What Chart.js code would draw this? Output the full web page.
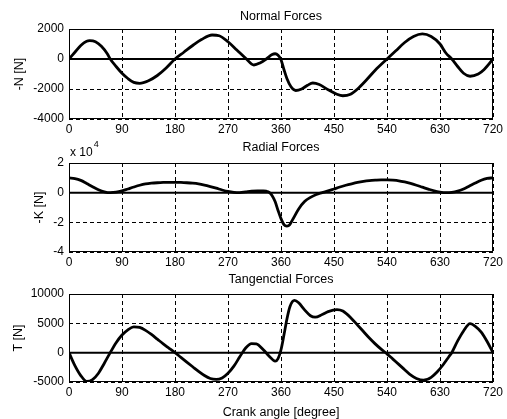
<!DOCTYPE html>
<html>
<head>
<meta charset="utf-8">
<title>Engine forces vs crank angle</title>
<script src="https://cdn.jsdelivr.net/npm/chart.js@4.4.1/dist/chart.umd.min.js"></script>
<style>
    html, body { margin: 0; padding: 0; background: #fff; }
    #wrap { position: relative; width: 507px; height: 419px; }
    #wrap canvas { position: absolute; left: 0; }
</style>
</head>
<body>
<div id="wrap">
    <canvas id="normal-chart" width="507" height="140" style="top:0px"></canvas>
    <canvas id="radial-chart" width="507" height="130" style="top:140px"></canvas>
    <canvas id="tangential-chart" width="507" height="149" style="top:270px"></canvas>
</div>
<script>
// crank angle axis [degree]
const angleTicks = [0, 90, 180, 270, 360, 450, 540, 630, 720];

// Normal forces, -N [N]
const normalAngles = [0, 10, 20, 30, 35, 45, 55, 65, 70, 80,
    90, 100, 110, 120, 135, 150, 165, 180, 195, 210,
    225, 243, 255, 270, 285, 300, 314, 325, 335, 345,
    350, 355, 360, 365, 370, 377, 385, 395, 405, 414,
    425, 440, 455, 465, 478, 490, 505, 520, 540, 555,
    570, 585, 600, 615, 630, 640, 650, 660, 670, 681,
    695, 705, 720];
const normalValues = [0, 450, 900, 1180, 1220, 1150, 850, 350, 0, -500,
    -950, -1300, -1560, -1620, -1450, -1100, -600, 0, 450, 900,
    1300, 1600, 1550, 1150, 600, 50, -400, -250, 0, 300,
    350, 250, -50, -700, -1300, -1850, -2100, -2000, -1750, -1600,
    -1700, -2050, -2350, -2450, -2350, -2000, -1400, -750, 0, 550,
    1100, 1500, 1670, 1500, 1000, 400, 0, -500, -950, -1150,
    -1000, -700, 0];

// Radial forces, -K [N] (in units of 10^4 N)
const radialAngles = [0, 10, 20, 30, 40, 50, 60, 70, 80, 90,
    100, 110, 120, 130, 140, 150, 160, 170, 180, 190,
    200, 210, 220, 230, 240, 250, 260, 270, 280, 290,
    300, 310, 320, 330, 335, 340, 345, 350, 355, 360,
    365, 370, 375, 380, 390, 400, 410, 420, 430, 440,
    450, 460, 470, 480, 490, 500, 510, 520, 530, 540,
    550, 560, 570, 580, 590, 600, 610, 620, 630, 640,
    650, 660, 670, 680, 690, 700, 710, 720];
const radialValues = [1.0, 0.95, 0.83, 0.62, 0.4, 0.2, 0.06, 0.0, 0.03, 0.12,
    0.25, 0.38, 0.5, 0.59, 0.64, 0.67, 0.69, 0.7, 0.7, 0.69,
    0.67, 0.64, 0.59, 0.51, 0.41, 0.3, 0.18, 0.08, 0.02, 0.0,
    0.05, 0.1, 0.12, 0.12, 0.1, 0.02, -0.2, -0.6, -1.2, -1.75,
    -2.15, -2.25, -2.15, -1.8, -1.1, -0.6, -0.32, -0.12, 0.0, 0.12,
    0.25, 0.38, 0.5, 0.6, 0.69, 0.76, 0.81, 0.84, 0.86, 0.86,
    0.84, 0.8, 0.72, 0.62, 0.5, 0.37, 0.24, 0.12, 0.04, 0.0,
    0.02, 0.1, 0.25, 0.45, 0.65, 0.84, 0.96, 1.0];

// Tangential forces, T [N]
const tangentialAngles = [0, 10, 20, 30, 40, 50, 60, 70, 80, 90,
    100, 110, 120, 130, 140, 150, 160, 170, 180, 190,
    200, 210, 220, 230, 240, 250, 260, 270, 280, 290,
    300, 310, 318, 330, 340, 350, 355, 360, 365, 370,
    375, 383, 390, 400, 410, 418, 430, 440, 455, 465,
    480, 490, 500, 510, 520, 530, 540, 550, 560, 570,
    580, 590, 602, 615, 625, 635, 645, 650, 660, 670,
    681, 690, 700, 710, 720];
const tangentialValues = [0, -2200, -3900, -4900, -4600, -3500, -1800, 0, 1700, 3000,
    3900, 4400, 4300, 3800, 3100, 2300, 1500, 750, 0, -800,
    -1600, -2400, -3200, -3900, -4400, -4550, -4300, -3500, -2300, -700,
    800, 1550, 1500, 500, -600, -1450, -1000, 500, 3000, 5700,
    7800, 8900, 8500, 7300, 6300, 6050, 6500, 7000, 7350, 7100,
    5800, 4700, 3600, 2500, 1500, 600, -200, -1100, -2000, -2900,
    -3800, -4400, -4700, -4200, -3300, -2100, -700, 0, 2000, 3700,
    4950, 4500, 3500, 1900, 0];

Chart.defaults.font.family = "'Liberation Sans', Arial, sans-serif";
Chart.defaults.font.size = 12;
Chart.defaults.color = '#000';
Chart.defaults.animation = false;

/**
 * Frame around the plot area (MATLAB style box)
 */
const boxPlugin = {
    id: 'box',
    afterDraw(chart) {
        const { ctx, chartArea: a } = chart;
        ctx.save();
        ctx.strokeStyle = '#000';
        ctx.lineWidth = 1;
        ctx.strokeRect(a.left + 0.5, a.top + 0.5, a.right - a.left - 1, a.bottom - a.top - 1);
        ctx.restore();
    }
};

/**
 * Exponent label "x 10^4" above the radial plot
 */
const exponentPlugin = {
    id: 'exponent',
    afterDraw(chart) {
        const { ctx, chartArea: a } = chart;
        ctx.save();
        ctx.fillStyle = '#000';
        ctx.textBaseline = 'middle';
        ctx.font = "12px 'Liberation Sans', Arial, sans-serif";
        ctx.fillText('x 10', a.left + 1, a.top - 10);
        const w = ctx.measureText('x 10').width;
        ctx.font = "9px 'Liberation Sans', Arial, sans-serif";
        ctx.fillText('4', a.left + 2 + w, a.top - 18);
        ctx.restore();
    }
};

function toPoints(xs, ys) {
    return xs.map((x, i) => ({ x: x, y: ys[i] }));
}

function makeChart(id, cfg) {
    const xAxis = {
        type: 'linear',
        min: 0,
        max: 720,
        afterBuildTicks: s => { s.ticks = angleTicks.map(v => ({ value: v })); },
        afterFit: s => { s.height = cfg.xHeight; },
        ticks: { padding: 3, maxRotation: 0, callback: v => String(v) },
        grid: { color: '#000', lineWidth: 1, drawTicks: false },
        border: { display: false, dash: [4, 3] },
        title: cfg.xTitle ? {
            display: true,
            text: cfg.xTitle,
            font: { size: 12.5, lineHeight: 1 },
            padding: { top: 0, bottom: 0 }
        } : { display: false }
    };
    const yAxis = {
        type: 'linear',
        min: cfg.yTicks[cfg.yTicks.length - 1],
        max: cfg.yTicks[0],
        afterBuildTicks: s => { s.ticks = cfg.yTicks.map(v => ({ value: v })); },
        afterFit: s => { s.width = 69; },
        ticks: { padding: 5, callback: v => String(v) },
        grid: { color: '#000', lineWidth: 1, drawTicks: false },
        border: { display: false, dash: [4, 3] },
        title: {
            display: true,
            text: cfg.yTitle,
            font: { size: 12.5 },
            padding: { top: cfg.yTitleOffset, bottom: 0 }
        }
    };

    return new Chart(document.getElementById(id), {
        type: 'line',
        data: {
            datasets: [
                {
                    data: toPoints(cfg.xs, cfg.ys),
                    borderColor: '#000',
                    borderWidth: 2.8,
                    pointRadius: 0,
                    cubicInterpolationMode: 'monotone',
                    order: 0
                },
                {
                    // zero reference line
                    data: [{ x: 0, y: 0 }, { x: 720, y: 0 }],
                    borderColor: '#000',
                    borderWidth: 2,
                    pointRadius: 0,
                    order: 1
                }
            ]
        },
        options: {
            responsive: false,
            layout: { padding: { left: 0, right: 14, top: 0, bottom: 0 } },
            plugins: {
                legend: { display: false },
                tooltip: { enabled: false },
                title: {
                    display: true,
                    text: cfg.title,
                    fullSize: false,
                    color: '#000',
                    font: { size: 12.5, weight: 'normal' },
                    padding: cfg.titlePadding
                }
            },
            scales: { x: xAxis, y: yAxis }
        },
        plugins: cfg.extraPlugins ? [boxPlugin].concat(cfg.extraPlugins) : [boxPlugin]
    });
}

makeChart('normal-chart', {
    title: 'Normal Forces',
    titlePadding: { top: 9, bottom: 5 },
    xs: normalAngles,
    ys: normalValues,
    yTicks: [2000, 0, -2000, -4000],
    yTitle: '-N [N]',
    yTitleOffset: 12.5,
    xHeight: 21
});

makeChart('radial-chart', {
    title: 'Radial Forces',
    titlePadding: { top: 0, bottom: 8 },
    xs: radialAngles,
    ys: radialValues,
    yTicks: [2, 0, -2, -4],
    yTitle: '-K [N]',
    yTitleOffset: 32.5,
    xHeight: 18,
    extraPlugins: [exponentPlugin]
});

makeChart('tangential-chart', {
    title: 'Tangenctial Forces',
    titlePadding: { top: 2.5, bottom: 6.5 },
    xs: tangentialAngles,
    ys: tangentialValues,
    yTicks: [10000, 5000, 0, -5000],
    yTitle: 'T [N]',
    yTitleOffset: 11,
    xHeight: 37,
    xTitle: 'Crank angle [degree]'
});
</script>
</body>
</html>
